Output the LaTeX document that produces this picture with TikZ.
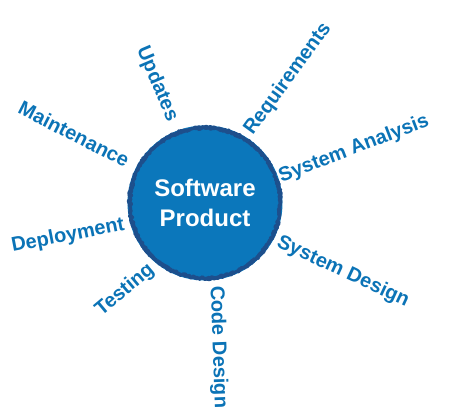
\documentclass[tikz,border=0pt]{standalone}
\usepackage{fontspec}
\setmainfont{Liberation Sans}
\definecolor{hubblue}{HTML}{0B77BB}
\definecolor{rimblue}{HTML}{1D4F8C}
\definecolor{labelblue}{HTML}{0B73B6}
\begin{document}
\begin{tikzpicture}[x=1pt,y=1pt,
  hub/.style={circle, fill=hubblue, minimum size=155pt, inner sep=0pt,
    text=white, align=center, font=\fontsize{24}{30}\selectfont\bfseries},
  rim/.style={draw=rimblue, line width=2.6pt, line join=round},
  phase/.style={text=labelblue, inner sep=0pt,
    font=\fontsize{20}{20}\selectfont\bfseries}]
\useasboundingbox (0,0) rectangle (457,-417);
\pgfmathsetseed{7}
% central hub with a rough, hand-drawn rim (two ragged passes)
\node[hub] (hub) at (205,-203) {Software\\Product};
\draw[rim, shift={(hub.center)}]
  plot[samples=360, domain=0:359] (\x:{76+2.2*rnd-1.1}) -- cycle;
\draw[rim, shift={(hub.center)}]
  plot[samples=360, domain=0:359] (\x:{74.5+2.2*rnd-1.1}) -- cycle;
% lifecycle phases set radially around the hub
\node[phase, rotate=54]  (req)    at (288,-79)  {Requirements};
\node[phase, rotate=21]  (sysana) at (354,-149) {System Analysis};
\node[phase, rotate=-25] (sysdes) at (343,-272) {System Design};
\node[phase, rotate=-88] (code)   at (218,-347) {Code Design};
\node[phase, rotate=40]  (test)   at (125,-290) {Testing};
\node[phase, rotate=11]  (deploy) at (68,-236)  {Deployment};
\node[phase, rotate=-27] (maint)  at (74,-134)  {Maintenance};
\node[phase, rotate=-67] (upd)    at (157,-84)  {Updates};
\end{tikzpicture}
\end{document}
